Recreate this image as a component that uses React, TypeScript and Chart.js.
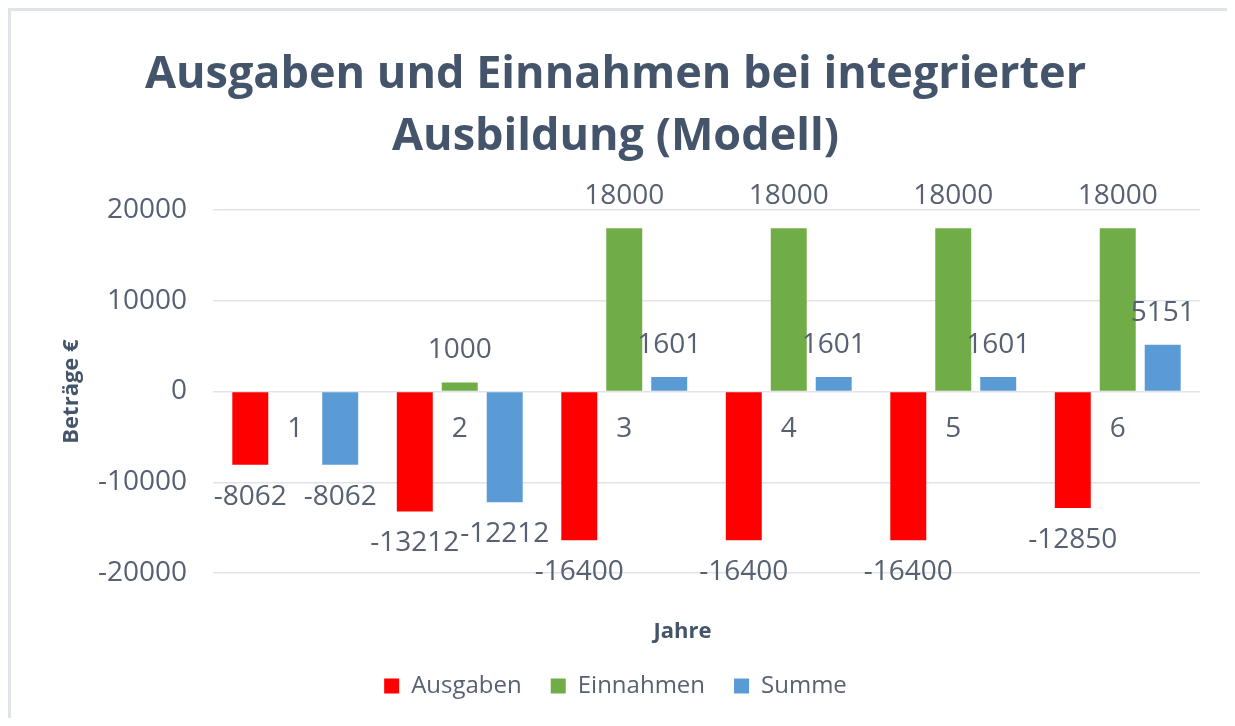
import React, { useEffect, useRef } from 'react';
import { Chart, registerables } from 'chart.js';

Chart.register(...registerables);

const categories = ['1', '2', '3', '4', '5', '6'];
const ausgaben = [-8062, -13212, -16400, -16400, -16400, -12850];
const einnahmen: (number | null)[] = [null, 1000, 18000, 18000, 18000, 18000];
const summe = [-8062, -12212, 1601, 1601, 1601, 5151];
const seriesNames = ['Ausgaben', 'Einnahmen', 'Summe'];
const seriesColors = ['#ff0000', '#70ad47', '#5b9bd5'];
const yMin = -20000;
const yMax = 20000;
const yStep = 10000;
const titleLines = ['Ausgaben und Einnahmen bei integrierter', 'Ausbildung (Modell)'];
const yTitle = 'Beträge €';
const xTitle = 'Jahre';

const TEXT = '#586172';
const DARK = '#44546a';
const GRID = '#e0e4ea';
const FONT = '"Open Sans", "DejaVu Sans", sans-serif';

const labelPlugin = {
  id: 'valueLabels',
  afterDatasetsDraw(chart: any) {
    const ctx = chart.ctx;
    ctx.save();
    ctx.font = `28px ${FONT}`;
    ctx.fillStyle = TEXT;
    ctx.textAlign = 'center';
    ctx.textBaseline = 'middle';
    chart.data.datasets.forEach((ds: any, i: number) => {
      const meta = chart.getDatasetMeta(i);
      meta.data.forEach((el: any, j: number) => {
        const v = ds.data[j];
        if (v == null) return;
        const y = v >= 0 ? el.y - 32 : el.y + 32;
        ctx.fillText(String(v), el.x, y);
      });
    });
    const xs = chart.scales.x;
    const ys = chart.scales.y;
    const y0 = ys.getPixelForValue(0);
    categories.forEach((c, i) => {
      ctx.fillText(c, xs.getPixelForValue(i), y0 + 38);
    });
    const area = chart.chartArea;
    ctx.font = `bold 22px ${FONT}`;
    ctx.fillStyle = DARK;
    ctx.fillText(xTitle, (area.left + area.right) / 2 - 24, area.bottom + 59);
    ctx.restore();
  },
};

export default function App() {
  const ref = useRef<HTMLCanvasElement>(null);
  useEffect(() => {
    if (!ref.current) return;
    const chart = new Chart(ref.current, {
      type: 'bar',
      data: {
        labels: categories,
        datasets: [ausgaben, einnahmen, summe].map((d, i) => ({
          label: seriesNames[i],
          data: d,
          backgroundColor: seriesColors[i],
          borderWidth: 0,
          categoryPercentage: 0.82,
          barPercentage: 0.8,
        })),
      },
      options: {
        animation: false,
        responsive: false,
        layout: { padding: { left: 20, right: 35, top: 0, bottom: 10 } },
        plugins: {
          tooltip: { enabled: false },
          title: {
            display: true,
            text: titleLines,
            color: DARK,
            font: { family: FONT, size: 45, weight: 'bold', lineHeight: 1.378 },
            padding: { top: 33, bottom: 42 },
          },
          legend: {
            position: 'bottom',
            labels: {
              boxWidth: 15,
              boxHeight: 15,
              padding: 29,
              color: TEXT,
              font: { family: FONT, size: 24 },
            },
          },
        },
        scales: {
          x: {
            grid: { display: false },
            border: { display: false },
            ticks: { display: false },
            afterFit: (s: any) => {
              s.height = 72;
            },
          },
          y: {
            min: yMin,
            max: yMax,
            ticks: {
              stepSize: yStep,
              color: TEXT,
              font: { family: FONT, size: 28 },
              padding: 26,
              callback: (v: any) => String(v),
            },
            grid: { color: GRID, lineWidth: 1.5, drawTicks: false },
            border: { display: false },
            title: {
              display: true,
              text: yTitle,
              color: DARK,
              font: { family: FONT, size: 22, weight: 'bold' },
              padding: { top: 28, bottom: 0 },
            },
            afterFit: (s: any) => {
              s.width = 182;
            },
          },
        },
      },
      plugins: [labelPlugin],
    });
    return () => chart.destroy();
  }, []);
  return (
    <div
      style={{
        width: 1227,
        height: 710,
        borderTop: '3px solid #dfe3ea',
        borderLeft: '3px solid #dfe3ea',
        boxSizing: 'border-box',
        background: '#fff',
      }}
    >
      <canvas ref={ref} width={1224} height={707} style={{ display: 'block' }} />
    </div>
  );
}
